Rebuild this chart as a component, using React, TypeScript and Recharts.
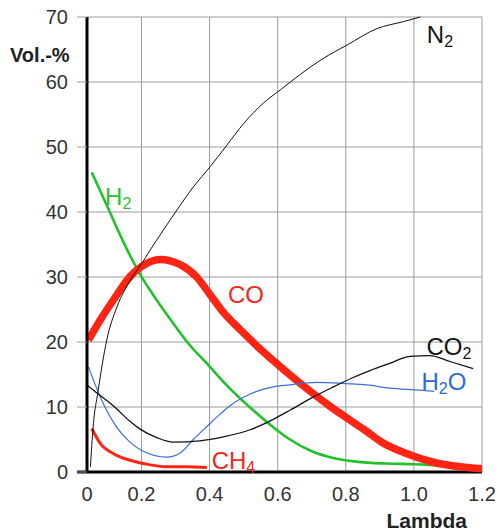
import React from 'react';
import { LineChart, Line, XAxis, YAxis, CartesianGrid, ReferenceDot, ReferenceLine } from 'recharts';

// Lambda (x) vs. Vol.-% (y)
const N2: [number, number][] = [
  [0.05, 0.8], [0.058, 6.9], [0.073, 12.6], [0.098, 20.3], [0.128, 25.4], [0.167, 29.5],
  [0.2, 32.0], [0.225, 34.1], [0.264, 37.2], [0.304, 40.3], [0.353, 43.9], [0.402, 47.0],
  [0.451, 50.3], [0.5, 53.6], [0.559, 56.8], [0.608, 58.8], [0.667, 61.2], [0.73, 63.5],
  [0.804, 65.7], [0.891, 68.2], [0.97, 69.3], [1.019, 70.0],
];
const CO2: [number, number][] = [
  [0.04, 13.4], [0.068, 12.2], [0.117, 10.2], [0.166, 7.8], [0.196, 6.6], [0.245, 5.3],
  [0.293, 4.6], [0.372, 4.8], [0.44, 5.4], [0.519, 6.5], [0.587, 8.1], [0.636, 9.5],
  [0.7, 11.4], [0.76, 13.0], [0.82, 14.5], [0.871, 15.6], [0.929, 16.7], [0.988, 17.8],
  [1.047, 17.9], [1.106, 17.0], [1.174, 15.9],
];
const H2O: [number, number][] = [
  [0.044, 16.2], [0.063, 13.6], [0.088, 10.5], [0.127, 6.9], [0.166, 4.6], [0.205, 3.2],
  [0.274, 2.3], [0.313, 2.9], [0.352, 5.0], [0.392, 7.0], [0.431, 8.9], [0.46, 10.2],
  [0.519, 12.0], [0.587, 13.1], [0.636, 13.4], [0.715, 13.8], [0.8, 13.6], [0.861, 13.4],
  [0.929, 12.9], [1.017, 12.6], [1.06, 12.4],
];
const H2: [number, number][] = [
  [0.054, 46.1], [0.1, 40.8], [0.145, 35.6], [0.196, 30.4], [0.244, 26.5], [0.293, 22.9],
  [0.342, 19.5], [0.392, 16.7], [0.44, 13.9], [0.49, 11.3], [0.539, 9.0], [0.587, 6.9],
  [0.636, 5.0], [0.7, 3.2], [0.76, 2.2], [0.83, 1.6], [0.92, 1.3], [1.0, 1.2], [1.077, 1.0], [1.14, 0.7],
];
const CO: [number, number][] = [
  [0.044, 20.3], [0.079, 23.4], [0.118, 26.5], [0.167, 30.1], [0.197, 31.5], [0.255, 32.7],
  [0.314, 31.9], [0.362, 30.0], [0.4, 27.4], [0.44, 24.6], [0.49, 21.9], [0.539, 19.4],
  [0.588, 17.1], [0.637, 14.9], [0.696, 12.4], [0.754, 10.1], [0.812, 8.0], [0.857, 6.4],
  [0.902, 4.7], [0.98, 2.8], [1.057, 1.5], [1.137, 0.8], [1.2, 0.5],
];
const CH4: [number, number][] = [
  [0.054, 6.7], [0.079, 4.4], [0.118, 2.8], [0.167, 1.8], [0.215, 1.2], [0.274, 0.8],
  [0.334, 0.8], [0.392, 0.7],
];

const xTicks = [0.04, 0.2, 0.4, 0.6, 0.8, 1.0, 1.2];
const xTickLabels = ['0', '0.2', '0.4', '0.6', '0.8', '1.0', '1.2'];
const yTicks = [0, 10, 20, 30, 40, 50, 60, 70];

type CurveLabel = { main: string; sub: string; tail: string; x: number; y: number; color: string };
const curveLabels: CurveLabel[] = [
  { main: 'N', sub: '2', tail: '', x: 1.038, y: 66.05, color: '#151515' },
  { main: 'H', sub: '2', tail: '', x: 0.093, y: 41.1, color: '#2dc22d' },
  { main: 'CO', sub: '', tail: '', x: 0.454, y: 26.0, color: '#f5261c' },
  { main: 'CO', sub: '2', tail: '', x: 1.037, y: 18.0, color: '#151515' },
  { main: 'H', sub: '2', tail: 'O', x: 1.022, y: 12.6, color: '#2f69d6' },
  { main: 'CH', sub: '4', tail: '', x: 0.406, y: 0.4, color: '#f5261c' },
];

const toPts = (arr: [number, number][]) => arr.map(([x, y]) => ({ x, y }));

const FONT = '"Liberation Sans", Arial, Helvetica, sans-serif';

function makeLabel(l: CurveLabel) {
  return (props: any) => {
    const vb = props.viewBox || {};
    const x = vb.x ?? vb.cx ?? 0;
    const y = vb.y ?? vb.cy ?? 0;
    return (
      <text x={x} y={y} fill={l.color} fontSize={24} fontFamily={FONT}>
        <tspan>{l.main}</tspan>
        {l.sub ? <tspan fontSize={16} dy={4}>{l.sub}</tspan> : null}
        {l.tail ? <tspan dy={-4}>{l.tail}</tspan> : null}
      </text>
    );
  };
}

export default function App() {
  return (
    <div style={{ position: 'absolute', left: 0, top: 0, background: '#fff' }}>
      <LineChart
        width={500}
        height={531}
        margin={{ top: 17, right: 18, bottom: 29, left: 27 }}
        style={{ fontFamily: FONT }}
      >
        <CartesianGrid stroke="#9c9c9c" strokeWidth={1} />
        <XAxis
          type="number"
          dataKey="x"
          domain={[0.04, 1.2]}
          ticks={xTicks}
          interval={0}
          allowDataOverflow
          height={30}
          axisLine={false}
          tickLine={false}
          tickSize={0}
          tickMargin={15}
          tick={{ fontSize: 20, fill: '#333', fontFamily: FONT }}
          tickFormatter={(v: number) => xTickLabels[xTicks.indexOf(v)] ?? String(v)}
          label={() => (
            <text x={467} y={528} textAnchor="end" fontSize={21} fontWeight="bold" fill="#222" fontFamily={FONT}>
              Lambda
            </text>
          )}
        />
        <YAxis
          type="number"
          domain={[0, 70]}
          ticks={yTicks}
          interval={0}
          width={60}
          axisLine={{ stroke: '#000', strokeWidth: 3 }}
          tickLine={{ stroke: '#9c9c9c' }}
          tickSize={10}
          tickMargin={9}
          tick={{ fontSize: 20, fill: '#333', fontFamily: FONT }}
          label={() => (
            <text x={10} y={61.5} fontSize={20} fontWeight="bold" fill="#222" fontFamily={FONT}>
              Vol.-%
            </text>
          )}
        />
        <ReferenceLine
          segment={[{ x: 0.0106, y: 0 }, { x: 1.2, y: 0 }]}
          stroke="#000"
          strokeWidth={3}
          ifOverflow="visible"
        />
        <Line data={toPts(H2)} dataKey="y" type="monotone" stroke="#22c02a" strokeWidth={2.6} dot={false} activeDot={false} isAnimationActive={false} />
        <Line data={toPts(CO)} dataKey="y" type="monotone" stroke="#ff2414" strokeWidth={7.5} dot={false} activeDot={false} isAnimationActive={false} />
        <Line data={toPts(CH4)} dataKey="y" type="monotone" stroke="#ff2414" strokeWidth={3} dot={false} activeDot={false} isAnimationActive={false} />
        <Line data={toPts(H2O)} dataKey="y" type="monotone" stroke="#3a6ed8" strokeWidth={1.2} dot={false} activeDot={false} isAnimationActive={false} />
        <Line data={toPts(CO2)} dataKey="y" type="monotone" stroke="#111" strokeWidth={1.3} dot={false} activeDot={false} isAnimationActive={false} />
        <Line data={toPts(N2)} dataKey="y" type="monotone" stroke="#111" strokeWidth={1} dot={false} activeDot={false} isAnimationActive={false} />
        {curveLabels.map((l, i) => (
          <ReferenceDot
            key={i}
            x={l.x}
            y={l.y}
            r={0}
            fill="none"
            stroke="none"
            ifOverflow="visible"
            label={makeLabel(l)}
          />
        ))}
      </LineChart>
    </div>
  );
}
